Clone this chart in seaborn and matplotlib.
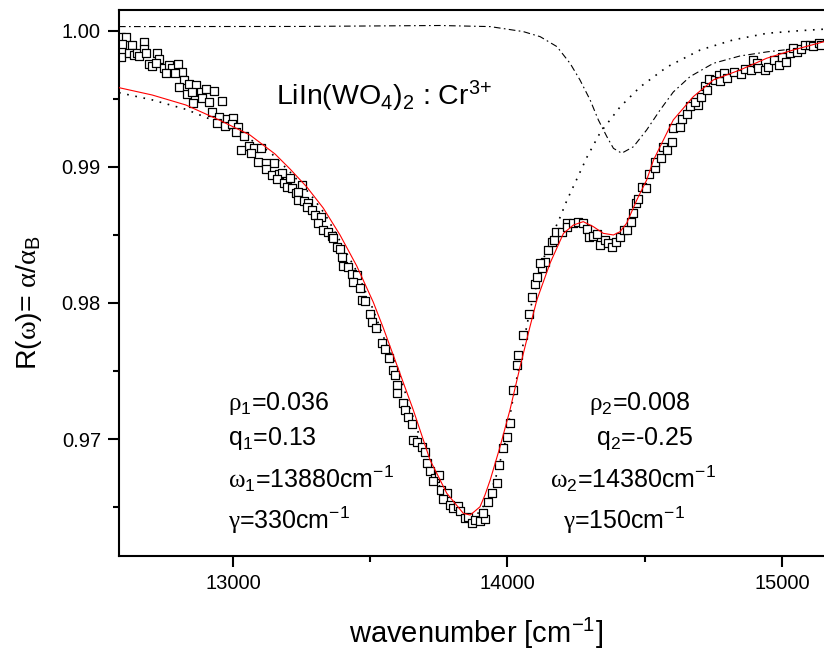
import matplotlib
matplotlib.use("Agg")
import matplotlib.pyplot as plt
import pandas as pd
import seaborn as sns
from matplotlib.ticker import MultipleLocator, FormatStrFormatter

# ---- measured reflectance ratio (open squares) ----
data_x = [
    12591, 12609, 12597, 12631, 12591, 12621, 12640, 12652, 12676, 12676,
    12658, 12682, 12725, 12731, 12694, 12706, 12719, 12749, 12767, 12779,
    12801, 12813, 12789, 12755, 12822, 12840, 12864, 12804, 12834, 12852,
    12883, 12903, 12931, 12888, 12913, 12961, 12855, 12925, 12949, 12980,
    13000, 12943, 12971, 12998, 13020, 13012, 13040, 13059, 13028, 13077,
    13101, 13065, 13092, 13119, 13150, 13119, 13143, 13168, 13180, 13162,
    13186, 13198, 13216, 13229,
    13208, 13251, 13238, 13238, 13259, 13275, 13269, 13287, 13299, 13320,
    13311, 13329, 13347, 13360, 13366, 13378, 13390, 13396, 13402, 13420,
    13433, 13451, 13439, 13463, 13469, 13481, 13499, 13506, 13521,
    13542, 13554, 13570, 13582, 13590, 13599, 13599, 13619, 13627, 13639,
    13651, 13657, 13670, 13688, 13700, 13708, 13718, 13736, 13752, 13730,
    13758, 13779, 13764, 13791, 13803, 13821, 13827, 13845, 13858, 13870,
    13882, 13900, 13918, 13910, 13930, 13943, 13963, 13970, 13985, 13997,
    14009, 14019, 14036, 14040, 14058, 14080, 14088,
    14100, 14109, 14125, 14137, 14119, 14149, 14161, 14170, 14177, 14198,
    14218, 14218, 14240, 14258, 14276, 14289, 14298, 14313, 14327, 14337,
    14355, 14368, 14380, 14396, 14410, 14425, 14437, 14449, 14459, 14467,
    14477, 14489, 14505,
    14517, 14538, 14538, 14558, 14568, 14580, 14598, 14602, 14629, 14635,
    14653, 14665, 14695, 14683, 14705, 14720, 14728, 14735, 14756, 14772,
    14774, 14789, 14799, 14825, 14850, 14866, 14886, 14894, 14908, 14914,
    14938, 14950, 14971, 14990, 14999, 15015, 15029, 15041, 15054, 15068,
    15084, 15102, 15114, 15133, 15142,
]
data_y = [
    0.99958, 0.99958, 0.99904, 0.99897, 0.99807, 0.99836, 0.99824, 0.99836, 0.99921, 0.99865,
    0.99816, 0.99836, 0.99836, 0.99792, 0.99757, 0.99743, 0.99762, 0.99726, 0.99750, 0.99726,
    0.99755, 0.99701, 0.99689, 0.99693, 0.99640, 0.99610, 0.99603, 0.99590, 0.99537, 0.99554,
    0.99554, 0.99571, 0.99559, 0.99505, 0.99480, 0.99485, 0.99473, 0.99407, 0.99370, 0.99351,
    0.99363, 0.99326, 0.99301, 0.99316, 0.99292, 0.99257, 0.99228, 0.99154, 0.99125, 0.99137,
    0.99137, 0.99101, 0.99039, 0.99032, 0.99027, 0.98987, 0.98941, 0.98949, 0.98954, 0.98910,
    0.98880, 0.98855, 0.98843, 0.98807,
    0.98917, 0.98868, 0.98818, 0.98757, 0.98752, 0.98737, 0.98704, 0.98684, 0.98647, 0.98630,
    0.98586, 0.98537, 0.98524, 0.98493, 0.98476, 0.98410, 0.98395, 0.98336, 0.98272, 0.98267,
    0.98213, 0.98206, 0.98157, 0.98108, 0.98022, 0.98017, 0.97919, 0.97862, 0.97814,
    0.97704, 0.97660, 0.97593, 0.97507, 0.97471, 0.97397, 0.97340, 0.97262, 0.97213, 0.97164,
    0.97110, 0.96993, 0.96980, 0.96943, 0.96907, 0.96821, 0.96767, 0.96711, 0.96735, 0.96693,
    0.96625, 0.96601, 0.96557, 0.96515, 0.96490, 0.96507, 0.96473, 0.96417, 0.96424, 0.96384,
    0.96404, 0.96399, 0.96410, 0.96454, 0.96539, 0.96601, 0.96674, 0.96809, 0.96932, 0.97017,
    0.97115, 0.97360, 0.97544, 0.97618, 0.97765, 0.97919, 0.98046,
    0.98140, 0.98189, 0.98255, 0.98304, 0.98296, 0.98390, 0.98451, 0.98463, 0.98524, 0.98524,
    0.98590, 0.98561, 0.98586, 0.98598, 0.98590, 0.98542, 0.98487, 0.98493, 0.98507, 0.98426,
    0.98463, 0.98443, 0.98414, 0.98451, 0.98487, 0.98537, 0.98537, 0.98598, 0.98660, 0.98733,
    0.98762, 0.98855, 0.98843,
    0.98949, 0.98990, 0.99039, 0.99064, 0.99149, 0.99125, 0.99186, 0.99285, 0.99296, 0.99351,
    0.99390, 0.99449, 0.99456, 0.99480, 0.99512, 0.99596, 0.99566, 0.99645, 0.99640, 0.99676,
    0.99635, 0.99689, 0.99652, 0.99701, 0.99684, 0.99718, 0.99713, 0.99787, 0.99762, 0.99726,
    0.99713, 0.99738, 0.99787, 0.99750, 0.99807, 0.99774, 0.99840, 0.99873, 0.99848, 0.99865,
    0.99897, 0.99897, 0.99890, 0.99910, 0.99897,
]

# ---- total two-resonance fit (red) ----
fit_x = [12585, 12706, 12828, 12949, 13062, 13153, 13208, 13269, 13329, 13390,
         13451, 13511, 13548, 13597, 13657, 13718, 13779, 13839, 13864, 13882,
         13900, 13918, 13937, 13973, 14009, 14046, 14082, 14107, 14155, 14204,
         14240, 14276, 14313, 14349, 14386, 14410, 14434, 14471, 14507, 14532,
         14604, 14677, 14750, 14847, 14944, 15041, 15153]
fit_y = [0.99583, 0.99529, 0.99456, 0.99346, 0.99235, 0.99096, 0.98985, 0.98853, 0.98698, 0.98500,
         0.98272, 0.98007, 0.97815, 0.97545, 0.97213, 0.96846, 0.96601, 0.96454, 0.96441, 0.96471,
         0.96502, 0.96588, 0.96698, 0.96943, 0.97213, 0.97532, 0.97826, 0.98022, 0.98292, 0.98512,
         0.98573, 0.98598, 0.98561, 0.98512, 0.98500, 0.98524, 0.98586, 0.98757, 0.98904, 0.99051,
         0.99346, 0.99517, 0.99640, 0.99713, 0.99799, 0.99860, 0.99921]

# ---- first resonance alone (dotted) ----
res1_x = [12585, 12706, 12828, 12924, 13026, 13135, 13208, 13281, 13335, 13390,
          13452, 13510, 13547, 13598, 13656, 13718, 13780, 13835, 13882, 13918,
          13955, 13991, 14028, 14053, 14082, 14119, 14144, 14192, 14217, 14246,
          14290, 14337, 14410, 14483, 14581, 14702, 14822, 14946, 15066, 15153]
res1_y = [0.99546, 0.99493, 0.99424, 0.99346, 0.99250, 0.99110, 0.98963, 0.98801, 0.98654, 0.98456,
          0.98228, 0.97956, 0.97757, 0.97529, 0.97162, 0.96794, 0.96544, 0.96412, 0.96426, 0.96522,
          0.96699, 0.96971, 0.97382, 0.97654, 0.97949, 0.98228, 0.98412, 0.98632, 0.98757, 0.98882,
          0.99074, 0.99250, 0.99441, 0.99588, 0.99735, 0.99860, 0.99934, 0.99983, 1.00002, 1.00013]

# ---- second resonance alone (dash-dot) ----
res2_x = [12585, 13244, 13754, 13937, 14058, 14119, 14180, 14228, 14264, 14301,
          14331, 14362, 14386, 14416, 14459, 14507, 14556, 14604, 14665, 14750,
          14847, 14945, 15041, 15153]
res2_y = [1.00032, 1.00033, 1.00040, 1.00032, 0.99995, 0.99958, 0.99885, 0.99762, 0.99640, 0.99493,
          0.99346, 0.99223, 0.99137, 0.99101, 0.99149, 0.99272, 0.99419, 0.99551, 0.99664, 0.99762,
          0.99816, 0.99846, 0.99868, 0.99904]

x_ticks = [13000, 14000, 15000]
y_ticks = [0.97, 0.98, 0.99, 1.00]

sns.set_style("ticks")
plt.rcParams.update({
    "font.family": ["Liberation Sans", "DejaVu Sans"],
    "mathtext.fontset": "custom",
    "mathtext.rm": "Liberation Sans",
    "mathtext.it": "Liberation Sans:italic",
    "mathtext.bf": "Liberation Sans:bold",
    "mathtext.cal": "Liberation Serif",
    "xtick.direction": "out",
    "ytick.direction": "out",
    "text.color": "black",
    "axes.labelcolor": "black",
    "axes.edgecolor": "black",
    "xtick.color": "black",
    "ytick.color": "black",
})

fig = plt.figure(figsize=(8.24, 6.55), dpi=100)
ax = fig.add_axes([0.14442, 0.15115, 0.85558, 0.83359])

sns.lineplot(x=res2_x, y=res2_y, ax=ax, color="black", linewidth=0.8,
             linestyle=(0, (6, 3, 1.5, 3)), estimator=None, sort=False, zorder=1)
sns.lineplot(x=res1_x, y=res1_y, ax=ax, color="black", linewidth=1.2,
             linestyle=(0, (1, 4)), estimator=None, sort=False, zorder=1)
sns.scatterplot(x=data_x, y=data_y, ax=ax, marker="s", s=30, color="white",
                edgecolor="black", linewidth=0.9, zorder=2)
sns.lineplot(x=fit_x, y=fit_y, ax=ax, color="#ff0000", linewidth=0.8,
             estimator=None, sort=False, zorder=3)

ax.set_xlim(12585, 15153)
ax.set_ylim(0.9614, 1.00154)
ax.set_xticks(x_ticks)
ax.set_yticks(y_ticks)
ax.xaxis.set_minor_locator(MultipleLocator(500))
ax.yaxis.set_minor_locator(MultipleLocator(0.005))
ax.yaxis.set_major_formatter(FormatStrFormatter("%.2f"))
ax.tick_params(which="major", length=8, width=1.5, labelsize=14.5, pad=5,
               top=False, right=False, colors="black")
ax.tick_params(which="minor", length=4.5, width=1.5, top=False, right=False,
               colors="black")
for side in ("left", "bottom", "top"):
    ax.spines[side].set_linewidth(1.5)
    ax.spines[side].set_color("black")
ax.spines["right"].set_visible(False)
ax.set_xlabel("")
ax.set_ylabel("")

# sample label
ax.text(13157, 0.99456, r"LiIn(WO$_4$)$_2$ : Cr$^{\text{3+}}$",
        fontsize=20.5, ha="left", va="baseline")

# resonance parameters
fs = 18
base = [0.97213, 0.96956, 0.96640, 0.96338]
ax.text(12982, base[0], r"$\mathcal{ρ}_1$=0.036", fontsize=fs, ha="left", va="baseline")
ax.text(12982, base[1], r"q$_1$=0.13", fontsize=fs, ha="left", va="baseline")
ax.text(12982, base[2], r"$\mathcal{ω}_1$=13880cm$^{-1}$", fontsize=fs, ha="left", va="baseline")
ax.text(12982, base[3], r"$\mathcal{γ}$=330cm$^{-1}$", fontsize=fs, ha="left", va="baseline")

ax.text(14483, base[0], r"$\mathcal{ρ}_2$=0.008", fontsize=fs, ha="center", va="baseline")
ax.text(14498, base[1], r"q$_2$=-0.25", fontsize=fs, ha="center", va="baseline")
ax.text(14457, base[2], r"$\mathcal{ω}_2$=14380cm$^{-1}$", fontsize=fs, ha="center", va="baseline")
ax.text(14425, base[3], r"$\mathcal{γ}$=150cm$^{-1}$", fontsize=fs, ha="center", va="baseline")

fig.text(476 / 824, 1 - 633 / 655, r"wavenumber [cm$^{-1}$]",
         fontsize=21, ha="center", va="center")
fig.text(29 / 824, 1 - 302 / 655,
         r"R($\mathcal{ω}$)= $\mathcal{α}$/$\mathcal{α}_\mathrm{B}$",
         fontsize=20.5, ha="center", va="center", rotation=90)

fig.savefig("out.png", dpi=100)
